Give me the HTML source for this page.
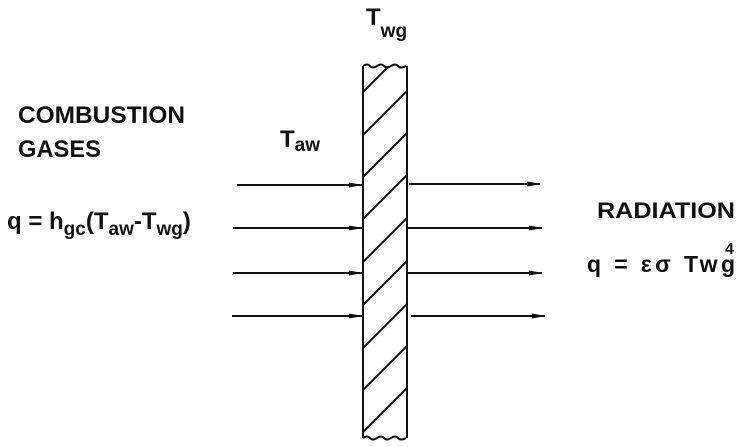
<!DOCTYPE html>
<html><head><style>html,body{margin:0;padding:0;background:#fff;overflow:hidden;width:747px;height:447px}svg{display:block}</style></head>
<body>
<svg width="747" height="447" viewBox="0 0 747 447" xmlns="http://www.w3.org/2000/svg" font-family="Liberation Sans, sans-serif" font-weight="bold" fill="#111">
<defs>
<marker id="a" markerWidth="14" markerHeight="8" refX="13" refY="4" orient="auto" markerUnits="userSpaceOnUse">
<path d="M0,1.5 L14,4 L0,6.5 Z" fill="#111"/></marker>
<clipPath id="w"><rect x="363" y="66" width="44" height="372"/></clipPath>
</defs>
<g stroke="#111" stroke-width="2" fill="none">
<line x1="363" y1="66" x2="363" y2="438"/>
<line x1="407" y1="66" x2="407" y2="438"/>
<path d="M363,66 q4,-3 7,0 t7,0 t7,0 t7,0 t7,0 t8,0"/>
<path d="M363,438 q4,-3 7,0 t7,0 t7,0 t7,0 t7,0 t8,0"/>
<g clip-path="url(#w)">
<line x1="363" y1="92" x2="407" y2="48"/>
<line x1="363" y1="135" x2="407" y2="91"/>
<line x1="363" y1="177" x2="407" y2="133"/>
<line x1="363" y1="219" x2="407" y2="175"/>
<line x1="363" y1="262" x2="407" y2="218"/>
<line x1="363" y1="305" x2="407" y2="261"/>
<line x1="363" y1="348" x2="407" y2="304"/>
<line x1="363" y1="390" x2="407" y2="346"/>
<line x1="363" y1="432" x2="407" y2="388"/>
</g>
<g marker-end="url(#a)">
<line x1="237" y1="185" x2="362" y2="185"/>
<line x1="233" y1="228" x2="362" y2="228"/>
<line x1="233" y1="273" x2="362" y2="273"/>
<line x1="232" y1="316" x2="362" y2="316"/>
<line x1="409" y1="184" x2="540" y2="184"/>
<line x1="407" y1="228" x2="542" y2="228"/>
<line x1="407" y1="273" x2="542" y2="273"/>
<line x1="411" y1="316" x2="545" y2="316"/>
</g>
</g>
<text x="18" y="123" font-size="24" textLength="167" lengthAdjust="spacingAndGlyphs">COMBUSTION</text>
<text x="18" y="157" font-size="24" textLength="83" lengthAdjust="spacingAndGlyphs">GASES</text>
<text x="7" y="229" font-size="24">q = h<tspan font-size="19" dy="6">gc</tspan><tspan dy="-6">(T</tspan><tspan font-size="19" dy="6">aw</tspan><tspan dy="-6">-T</tspan><tspan font-size="19" dy="6">wg</tspan><tspan dy="-6">)</tspan></text>
<text x="280" y="147" font-size="24">T<tspan font-size="19" dy="4">aw</tspan></text>
<text x="366" y="25" font-size="24">T<tspan font-size="19" dy="12">wg</tspan></text>
<text x="597" y="218" font-size="22" textLength="138" lengthAdjust="spacingAndGlyphs">RADIATION</text>
<text x="587" y="272" font-size="23" textLength="148" lengthAdjust="spacing">q = εσ Twg</text>
<text x="725" y="254" font-size="16">4</text>
</svg>
</body></html>
